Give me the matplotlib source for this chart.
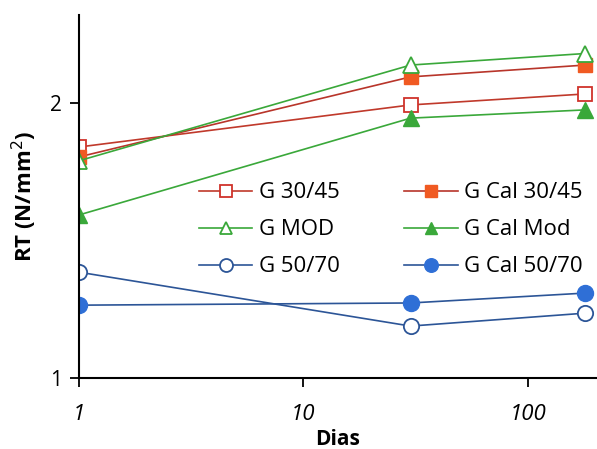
import matplotlib
matplotlib.use("Agg")
import matplotlib.pyplot as plt
from matplotlib.ticker import FixedLocator, NullLocator

dias = [1, 30, 180]
g_30_45 = [1.84, 1.993, 2.033]
g_cal_30_45 = [1.804, 2.095, 2.138]
g_mod = [1.79, 2.138, 2.18]
g_cal_mod = [1.593, 1.945, 1.975]
g_50_70 = [1.385, 1.189, 1.236]
g_cal_50_70 = [1.265, 1.273, 1.309]

plt.rcParams['font.family'] = ['Open Sans', 'DejaVu Sans']

fig = plt.figure(figsize=(5.97, 4.49), dpi=100)
ax = fig.add_axes([0.1323, 0.158, 0.8677, 0.8086])

red = '#d0332b'
orange = '#f05a22'
green = '#3aa83a'
blue = '#2c5597'
bluef = '#2f6fd6'

ax.plot(dias, g_30_45, color='#c0392b', lw=1.2, marker='s', ms=10.5, mfc='white', mec=red, mew=1.3, label='G 30/45')
ax.plot(dias, g_cal_30_45, color='#b8352a', lw=1.2, marker='s', ms=10.5, mfc=orange, mec=orange, label='G Cal 30/45')
ax.plot(dias, g_mod, color=green, lw=1.2, marker='^', ms=11, mfc='white', mec=green, mew=1.3, label='G MOD')
ax.plot(dias, g_cal_mod, color=green, lw=1.2, marker='^', ms=11, mfc=green, mec=green, label='G Cal Mod')
ax.plot(dias, g_50_70, color=blue, lw=1.2, marker='o', ms=11, mfc='white', mec=blue, mew=1.3, label='G 50/70')
ax.plot(dias, g_cal_50_70, color=blue, lw=1.2, marker='o', ms=11.5, mfc=bluef, mec=bluef, label='G Cal 50/70')

ax.set_xscale('log')
ax.set_xlim(1, 203)
ax.set_ylim(1, 2.32)
ax.xaxis.set_major_locator(FixedLocator([1, 10, 100]))
ax.xaxis.set_minor_locator(NullLocator())
ax.set_xticklabels(['1', '10', '100'], fontstyle='italic', fontsize=16)
ax.set_yticks([1, 2])
ax.set_yticklabels(['1', '2'], fontsize=15)
ax.tick_params(axis='both', direction='out', length=6.5, width=1.3, color='black')
ax.tick_params(axis='x', pad=12)
ax.tick_params(axis='y', pad=6)
for s in ['top', 'right']:
    ax.spines[s].set_visible(False)
for s in ['left', 'bottom']:
    ax.spines[s].set_linewidth(1.5)
    ax.spines[s].set_color('black')

ax.set_xlabel('Dias', fontsize=15, fontweight='bold', labelpad=3)
ax.set_ylabel('RT (N/mm$^2$)', fontsize=16, fontweight='bold', labelpad=8)

handles, labels = ax.get_legend_handles_labels()
order = [0, 2, 4, 1, 3, 5]
fig.legend([handles[i] for i in order], [labels[i] for i in order], ncol=2, frameon=False,
           fontsize=16, loc='center', bbox_to_anchor=(0.655, 0.488), handlelength=2.4,
           handletextpad=0.3, columnspacing=2.9, labelspacing=0.72, borderpad=0,
           markerscale=0.85)

fig.savefig('out.png', dpi=100)
